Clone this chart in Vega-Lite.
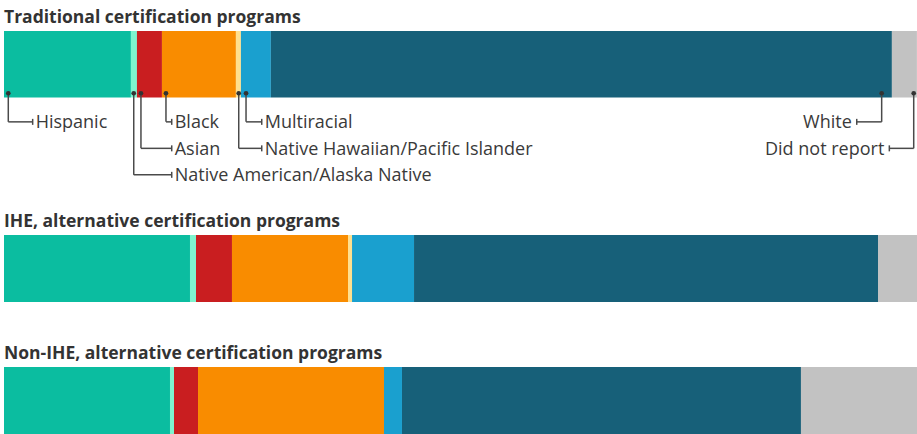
{
  "$schema": "https://vega.github.io/schema/vega-lite/v6.json",
  "padding": {"left": 4, "top": 8, "right": 0, "bottom": 0},
  "background": "white",
  "datasets": {
    "bars": [
      {"program": "Traditional", "group": "Hispanic", "value": 13.9, "order": 1},
      {"program": "Traditional", "group": "Native American/Alaska Native", "value": 0.66, "order": 2},
      {"program": "Traditional", "group": "Asian", "value": 2.74, "order": 3},
      {"program": "Traditional", "group": "Black", "value": 8.1, "order": 4},
      {"program": "Traditional", "group": "Native Hawaiian/Pacific Islander", "value": 0.55, "order": 5},
      {"program": "Traditional", "group": "Multiracial", "value": 3.28, "order": 6},
      {"program": "Traditional", "group": "White", "value": 68.02, "order": 7},
      {"program": "Traditional", "group": "Did not report", "value": 2.74, "order": 8},
      {"program": "IHE", "group": "Hispanic", "value": 20.37, "order": 1},
      {"program": "IHE", "group": "Native American/Alaska Native", "value": 0.66, "order": 2},
      {"program": "IHE", "group": "Asian", "value": 3.94, "order": 3},
      {"program": "IHE", "group": "Black", "value": 12.71, "order": 4},
      {"program": "IHE", "group": "Native Hawaiian/Pacific Islander", "value": 0.44, "order": 5},
      {"program": "IHE", "group": "Multiracial", "value": 6.79, "order": 6},
      {"program": "IHE", "group": "White", "value": 50.82, "order": 7},
      {"program": "IHE", "group": "Did not report", "value": 4.27, "order": 8},
      {"program": "Non-IHE", "group": "Hispanic", "value": 18.18, "order": 1},
      {"program": "Non-IHE", "group": "Native American/Alaska Native", "value": 0.44, "order": 2},
      {"program": "Non-IHE", "group": "Asian", "value": 2.63, "order": 3},
      {"program": "Non-IHE", "group": "Black", "value": 20.37, "order": 4},
      {"program": "Non-IHE", "group": "Native Hawaiian/Pacific Islander", "value": 0, "order": 5},
      {"program": "Non-IHE", "group": "Multiracial", "value": 1.97, "order": 6},
      {"program": "Non-IHE", "group": "White", "value": 43.7, "order": 7},
      {"program": "Non-IHE", "group": "Did not report", "value": 12.71, "order": 8}
    ],
    "notes": [
      {"group": "Hispanic", "pos": 0.47, "end": 3.14, "level": 1, "side": "left"},
      {"group": "Native American/Alaska Native", "pos": 14.21, "end": 18.37, "level": 3, "side": "left"},
      {"group": "Asian", "pos": 15.0, "end": 18.37, "level": 2, "side": "left"},
      {"group": "Black", "pos": 17.74, "end": 18.37, "level": 1, "side": "left"},
      {"group": "Native Hawaiian/Pacific Islander", "pos": 25.71, "end": 28.23, "level": 2, "side": "left"},
      {"group": "Multiracial", "pos": 26.51, "end": 28.23, "level": 1, "side": "left"},
      {"group": "White", "pos": 96.13, "end": 93.4, "level": 1, "side": "right"},
      {"group": "Did not report", "pos": 99.64, "end": 96.97, "level": 2, "side": "right"}
    ]
  },
  "config": {
    "view": {"stroke": null},
    "title": {"anchor": "start", "frame": "group", "font": "Open Sans", "fontSize": 17.5, "fontWeight": 700, "color": "#333333", "offset": 5},
    "text": {"font": "Open Sans", "fontSize": 18, "color": "#3a3a3a"}
  },
  "spacing": 21,
  "vconcat": [
    {
      "title": "Traditional certification programs",
      "width": 913,
      "height": 160,
      "layer": [
        {
          "data": {"name": "bars"},
          "transform": [
            {"filter": "datum.program === 'Traditional'"},
            {"stack": "value", "groupby": ["program"], "sort": [{"field": "order", "order": "ascending"}], "as": ["x0", "x1"]}
          ],
          "mark": {"type": "bar"},
          "encoding": {
            "x": {"field": "x0", "type": "quantitative", "scale": {"domain": [0, 100], "nice": false, "zero": true}, "axis": null},
            "x2": {"field": "x1"},
            "y": {"datum": -2.43, "type": "quantitative", "scale": {"domain": [-2.43, 3.61], "nice": false, "zero": false, "reverse": true}, "axis": null},
            "y2": {"datum": 0.08},
            "color": {"field": "group", "type": "nominal", "legend": null,
              "scale": {"domain": ["Hispanic", "Native American/Alaska Native", "Asian", "Black", "Native Hawaiian/Pacific Islander", "Multiracial", "White", "Did not report"],
                        "range": ["#0bbda0", "#7ff3cf", "#c91e20", "#f98c00", "#ffe08f", "#1aa0cf", "#176079", "#c2c2c2"]}}
          }
        },
        {
          "data": {"name": "notes"},
          "mark": {"type": "rule", "color": "#4a4a4a", "strokeWidth": 1.5},
          "encoding": {
            "x": {"field": "pos", "type": "quantitative"},
            "y": {"field": "level", "type": "quantitative"},
            "y2": {"datum": -0.08}
          }
        },
        {
          "data": {"name": "notes"},
          "mark": {"type": "rule", "color": "#4a4a4a", "strokeWidth": 1.5},
          "encoding": {
            "x": {"field": "pos", "type": "quantitative"},
            "x2": {"field": "end"},
            "y": {"field": "level", "type": "quantitative"}
          }
        },
        {
          "data": {"name": "notes"},
          "mark": {"type": "tick", "orient": "vertical", "color": "#4a4a4a", "size": 6, "thickness": 1.5, "opacity": 1},
          "encoding": {
            "x": {"field": "end", "type": "quantitative"},
            "y": {"field": "level", "type": "quantitative"}
          }
        },
        {
          "data": {"name": "notes"},
          "mark": {"type": "circle", "color": "#333333", "size": 22, "opacity": 1},
          "encoding": {
            "x": {"field": "pos", "type": "quantitative"},
            "y": {"datum": -0.08, "type": "quantitative"}
          }
        },
        {
          "data": {"name": "notes"},
          "transform": [{"filter": "datum.side === 'left'"}],
          "mark": {"type": "text", "align": "left", "baseline": "middle", "dx": 3, "dy": 1.5},
          "encoding": {
            "x": {"field": "end", "type": "quantitative"},
            "y": {"field": "level", "type": "quantitative"},
            "text": {"field": "group", "type": "nominal"}
          }
        },
        {
          "data": {"name": "notes"},
          "transform": [{"filter": "datum.side === 'right'"}],
          "mark": {"type": "text", "align": "right", "baseline": "middle", "dx": -5, "dy": 1.5},
          "encoding": {
            "x": {"field": "end", "type": "quantitative"},
            "y": {"field": "level", "type": "quantitative"},
            "text": {"field": "group", "type": "nominal"}
          }
        }
      ]
    },
    {
      "spacing": 42,
      "vconcat": [
        {
          "title": "IHE, alternative certification programs",
          "width": 913,
          "height": 67,
          "data": {"name": "bars"},
          "transform": [{"filter": "datum.program === 'IHE'"}],
          "mark": {"type": "bar"},
          "encoding": {
            "x": {"field": "value", "type": "quantitative", "stack": "zero", "scale": {"domain": [0, 100], "nice": false}, "axis": null},
            "y": {"field": "program", "type": "nominal", "axis": null, "scale": {"paddingInner": 0, "paddingOuter": 0}},
            "color": {"field": "group", "type": "nominal", "legend": null,
              "scale": {"domain": ["Hispanic", "Native American/Alaska Native", "Asian", "Black", "Native Hawaiian/Pacific Islander", "Multiracial", "White", "Did not report"],
                        "range": ["#0bbda0", "#7ff3cf", "#c91e20", "#f98c00", "#ffe08f", "#1aa0cf", "#176079", "#c2c2c2"]}},
            "order": {"field": "order", "type": "quantitative"}
          }
        },
        {
          "title": "Non-IHE, alternative certification programs",
          "width": 913,
          "height": 67,
          "data": {"name": "bars"},
          "transform": [{"filter": "datum.program === 'Non-IHE'"}],
          "mark": {"type": "bar"},
          "encoding": {
            "x": {"field": "value", "type": "quantitative", "stack": "zero", "scale": {"domain": [0, 100], "nice": false}, "axis": null},
            "y": {"field": "program", "type": "nominal", "axis": null, "scale": {"paddingInner": 0, "paddingOuter": 0}},
            "color": {"field": "group", "type": "nominal", "legend": null,
              "scale": {"domain": ["Hispanic", "Native American/Alaska Native", "Asian", "Black", "Native Hawaiian/Pacific Islander", "Multiracial", "White", "Did not report"],
                        "range": ["#0bbda0", "#7ff3cf", "#c91e20", "#f98c00", "#ffe08f", "#1aa0cf", "#176079", "#c2c2c2"]}},
            "order": {"field": "order", "type": "quantitative"}
          }
        }
      ]
    }
  ]
}
